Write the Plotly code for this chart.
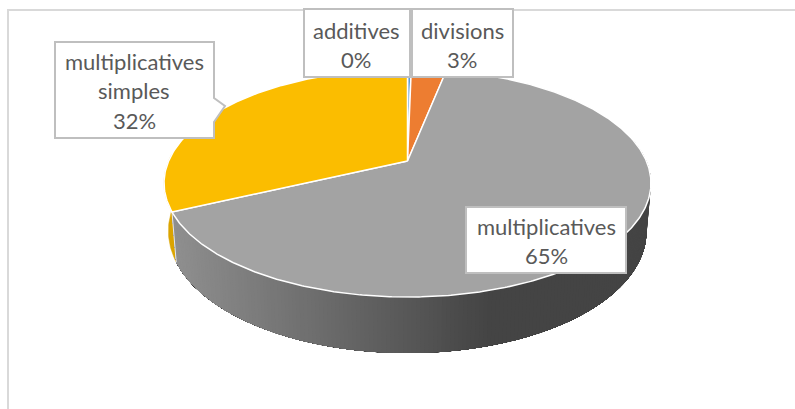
import numpy as np
import plotly.graph_objects as go

# Data (clockwise from 12 o'clock)
categories = ["additives", "divisions", "multiplicatives", "multiplicatives simples"]
values = [0.3, 2.8, 64.9, 32.0]
top_colors = ["#5b9bd5", "#ed7d31", "#a3a3a3", "#fbbd00"]

# Projection of the tilted disc into axis units
CX, CY, A, B, K = 407.5, 161.0, 238.9, 109.8, 0.193
DEPTH, DEPTH_FALL, SHRINK = 56.0, 10.0, 0.982


def ring(t):
    u, v = np.sin(t), np.cos(t)
    w = 1 + K * v
    return CX + A * u / w, CY - B * v / w


def lower(t):
    x, y = ring(t)
    return CX + SHRINK * (x - CX), y + DEPTH - DEPTH_FALL * (np.cos(t) + 1)


def poly(x, y, fill, line=None, width=0):
    return go.Scatter(x=x, y=y, mode="lines", fill="toself", fillcolor=fill,
                      line=dict(color=line or fill, width=width),
                      hoverinfo="skip", showlegend=False)


fractions = np.cumsum([0] + values) / sum(values) * 2 * np.pi
starts, ends = fractions[:-1], fractions[1:]
fig = go.Figure()

# Side wall of the yellow slice
t = np.linspace(ends[2], ends[2] + 0.5, 30)
ux, uy = ring(t)
lx, ly = lower(t)
fig.add_trace(poly(np.r_[ux, lx[::-1]], np.r_[uy, ly[::-1]], "#dba400", "#dba400", 0.5))


# Side wall of the grey slice, shaded along x
def shade(x):
    f = np.clip((x - 176) / (490 - 176), 0, 1)
    g = int(round(143 + (68 - 143) * f))
    return f"rgb({g},{g},{g})"


# Painted from the dark end to the light end; each band covers all that is still to come
edges = np.linspace(1.35, ends[2], 200)
for a in edges[:-1]:
    t = np.linspace(a, ends[2], 120)
    ux, uy = ring(t)
    lx, ly = lower(t)
    fig.add_trace(poly(np.r_[ux, lx[::-1]], np.r_[uy, ly[::-1]], shade((ux[0] + lx[0]) / 2)))

# Light edge at the end of the grey wall
t = np.array([ends[2]])
ux, uy = ring(t)
lx, ly = lower(t)
fig.add_trace(go.Scatter(x=[ux[0], lx[0]], y=[uy[0], ly[0]], mode="lines",
                         line=dict(color="#e8e8e8", width=1),
                         hoverinfo="skip", showlegend=False))

# Top face
for s, e, c in zip(starts, ends, top_colors):
    t = np.linspace(s, e, max(int((e - s) * 120), 4))
    x, y = ring(t)
    fig.add_trace(poly(np.r_[CX, x, CX], np.r_[CY, y, CY], c, "#ffffff", 1.5))

# Callout boxes
LINE = dict(color="#bfbfbf", width=2)
boxes = [
    "M304,9 L304,77 L410,77 L410,9 Z",
    "M412,9 L412,77 L513,77 L513,9 Z",
    "M466,207 L626,207 L626,273 L466,273 Z",
    "M55,42 L214,42 L214,98 L225,106 L214,122 L214,138 L55,138 Z",
]
shapes = [dict(type="rect", xref="x", yref="y", x0=8, y0=10, x1=830, y1=450,
               line=dict(color="#d9d9d9", width=2), layer="below")]
shapes += [dict(type="path", xref="x", yref="y", path=p, fillcolor="#ffffff",
                line=LINE, layer="above") for p in boxes]

# Labels
label_x = [356, 462, 546, 134]
label_y = [30, 30, 226, 61]
LINE_STEP = 29.5
annotations = []
for cat, val, x, y in zip(categories, values, label_x, label_y):
    lines = cat.split(" ") + [f"{round(val / sum(values) * 100)}%"]
    for i, txt in enumerate(lines):
        annotations.append(dict(x=x, y=y + i * LINE_STEP, xref="x", yref="y", text=txt,
                                showarrow=False, xanchor="center", yanchor="middle",
                                font=dict(family="Lato", size=22, color="#595959")))

fig.update_layout(
    width=795, height=409, margin=dict(l=0, r=0, t=0, b=0),
    paper_bgcolor="#ffffff", plot_bgcolor="#ffffff", showlegend=False,
    xaxis=dict(range=[0, 795], visible=False, fixedrange=True),
    yaxis=dict(range=[409, 0], visible=False, fixedrange=True),
    shapes=shapes, annotations=annotations,
)
fig.write_html("out.html", config={"displayModeBar": False},
               post_script="document.body.style.margin='0';document.body.style.overflow='hidden';")
